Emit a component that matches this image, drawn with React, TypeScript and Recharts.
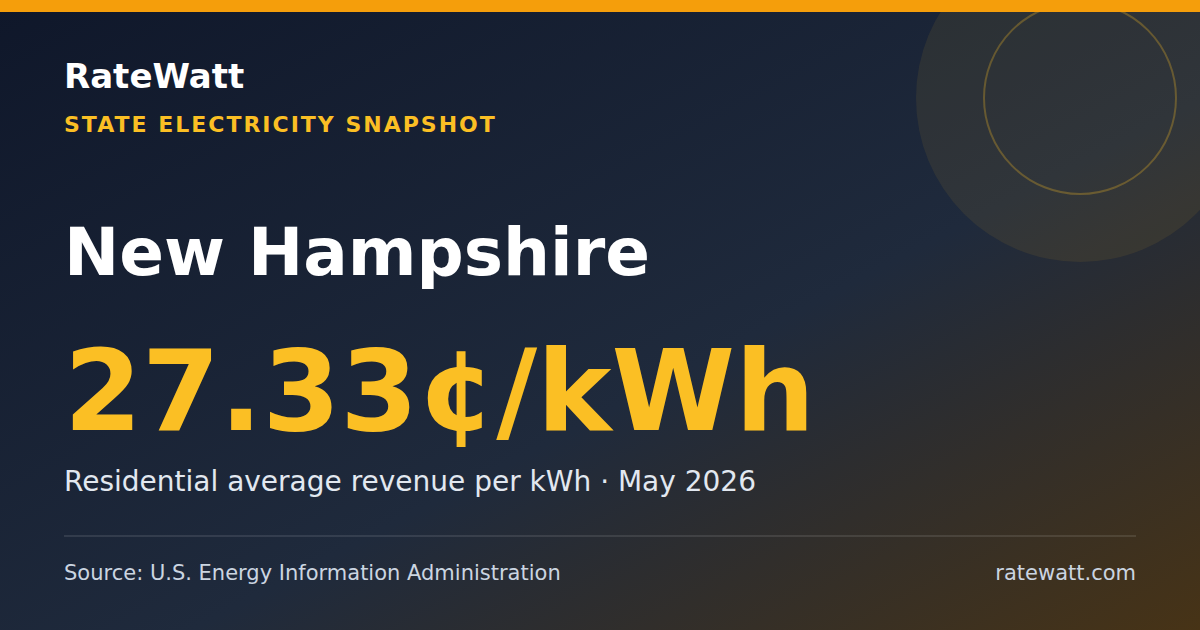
import { Surface, Layer, Text, Rectangle, Dot } from "recharts"

const brand = ["RateWatt"]
const kicker = ["STATE ELECTRICITY SNAPSHOT"]
const stateName = ["New Hampshire"]
const rateCents = [27.33]
const rateUnit = ["¢/kWh"]
const subtitle = ["Residential average revenue per kWh", "May 2026"]
const footer = ["Source: U.S. Energy Information Administration", "ratewatt.com"]

const W = 1200
const H = 630
const font = "'DejaVu Sans', sans-serif"

export default function App() {
  return (
    <div style={{ width: W, height: H, overflow: "hidden" }}>
      <style>{`body{margin:0;background:#0f172a}`}</style>
      <Surface width={W} height={H}>
        <defs>
          <linearGradient id="bg" x1="0" y1="0" x2="1" y2="1">
            <stop offset="0%" stopColor="#0f172a" />
            <stop offset="58%" stopColor="#1f2a3c" />
            <stop offset="100%" stopColor="#473316" />
          </linearGradient>
        </defs>
        <Rectangle x={0} y={0} width={W} height={H} fill="url(#bg)" />
        <Layer>
          <Dot cx={1080} cy={98} r={164} fill="#fbbf24" fillOpacity={0.08} />
          <Dot cx={1080} cy={98} r={96} fill="none" stroke="#fbbf24" strokeOpacity={0.28} strokeWidth={2} />
        </Layer>
        <Rectangle x={0} y={0} width={W} height={12} fill="#f59e0b" />

        <Text x={64} y={88} fontFamily={font} fontWeight="bold" fontSize={34} fill="#ffffff">
          {brand[0]}
        </Text>
        <Text x={64} y={132} fontFamily={font} fontWeight="bold" fontSize={22} letterSpacing={2} fill="#fbbf24">
          {kicker[0]}
        </Text>
        <Text x={64} y={275} fontFamily={font} fontWeight="bold" fontSize={66} fill="#ffffff">
          {stateName[0]}
        </Text>
        <Text x={64} y={430} fontFamily={font} fontWeight="bold" fontSize={112} fill="#fbbf24">
          {`${rateCents[0].toFixed(2)}${rateUnit[0]}`}
        </Text>
        <Text x={64} y={491} fontFamily={font} fontSize={28} fill="#e2e8f0">
          {subtitle.join(" · ")}
        </Text>

        <Rectangle x={64} y={535} width={1072} height={2} fill="#ffffff" fillOpacity={0.1} />

        <Text x={64} y={580} fontFamily={font} fontSize={21} fill="#cbd5e1">
          {footer[0]}
        </Text>
        <Text x={1136} y={580} textAnchor="end" fontFamily={font} fontSize={21} fill="#cbd5e1">
          {footer[1]}
        </Text>
      </Surface>
    </div>
  )
}
